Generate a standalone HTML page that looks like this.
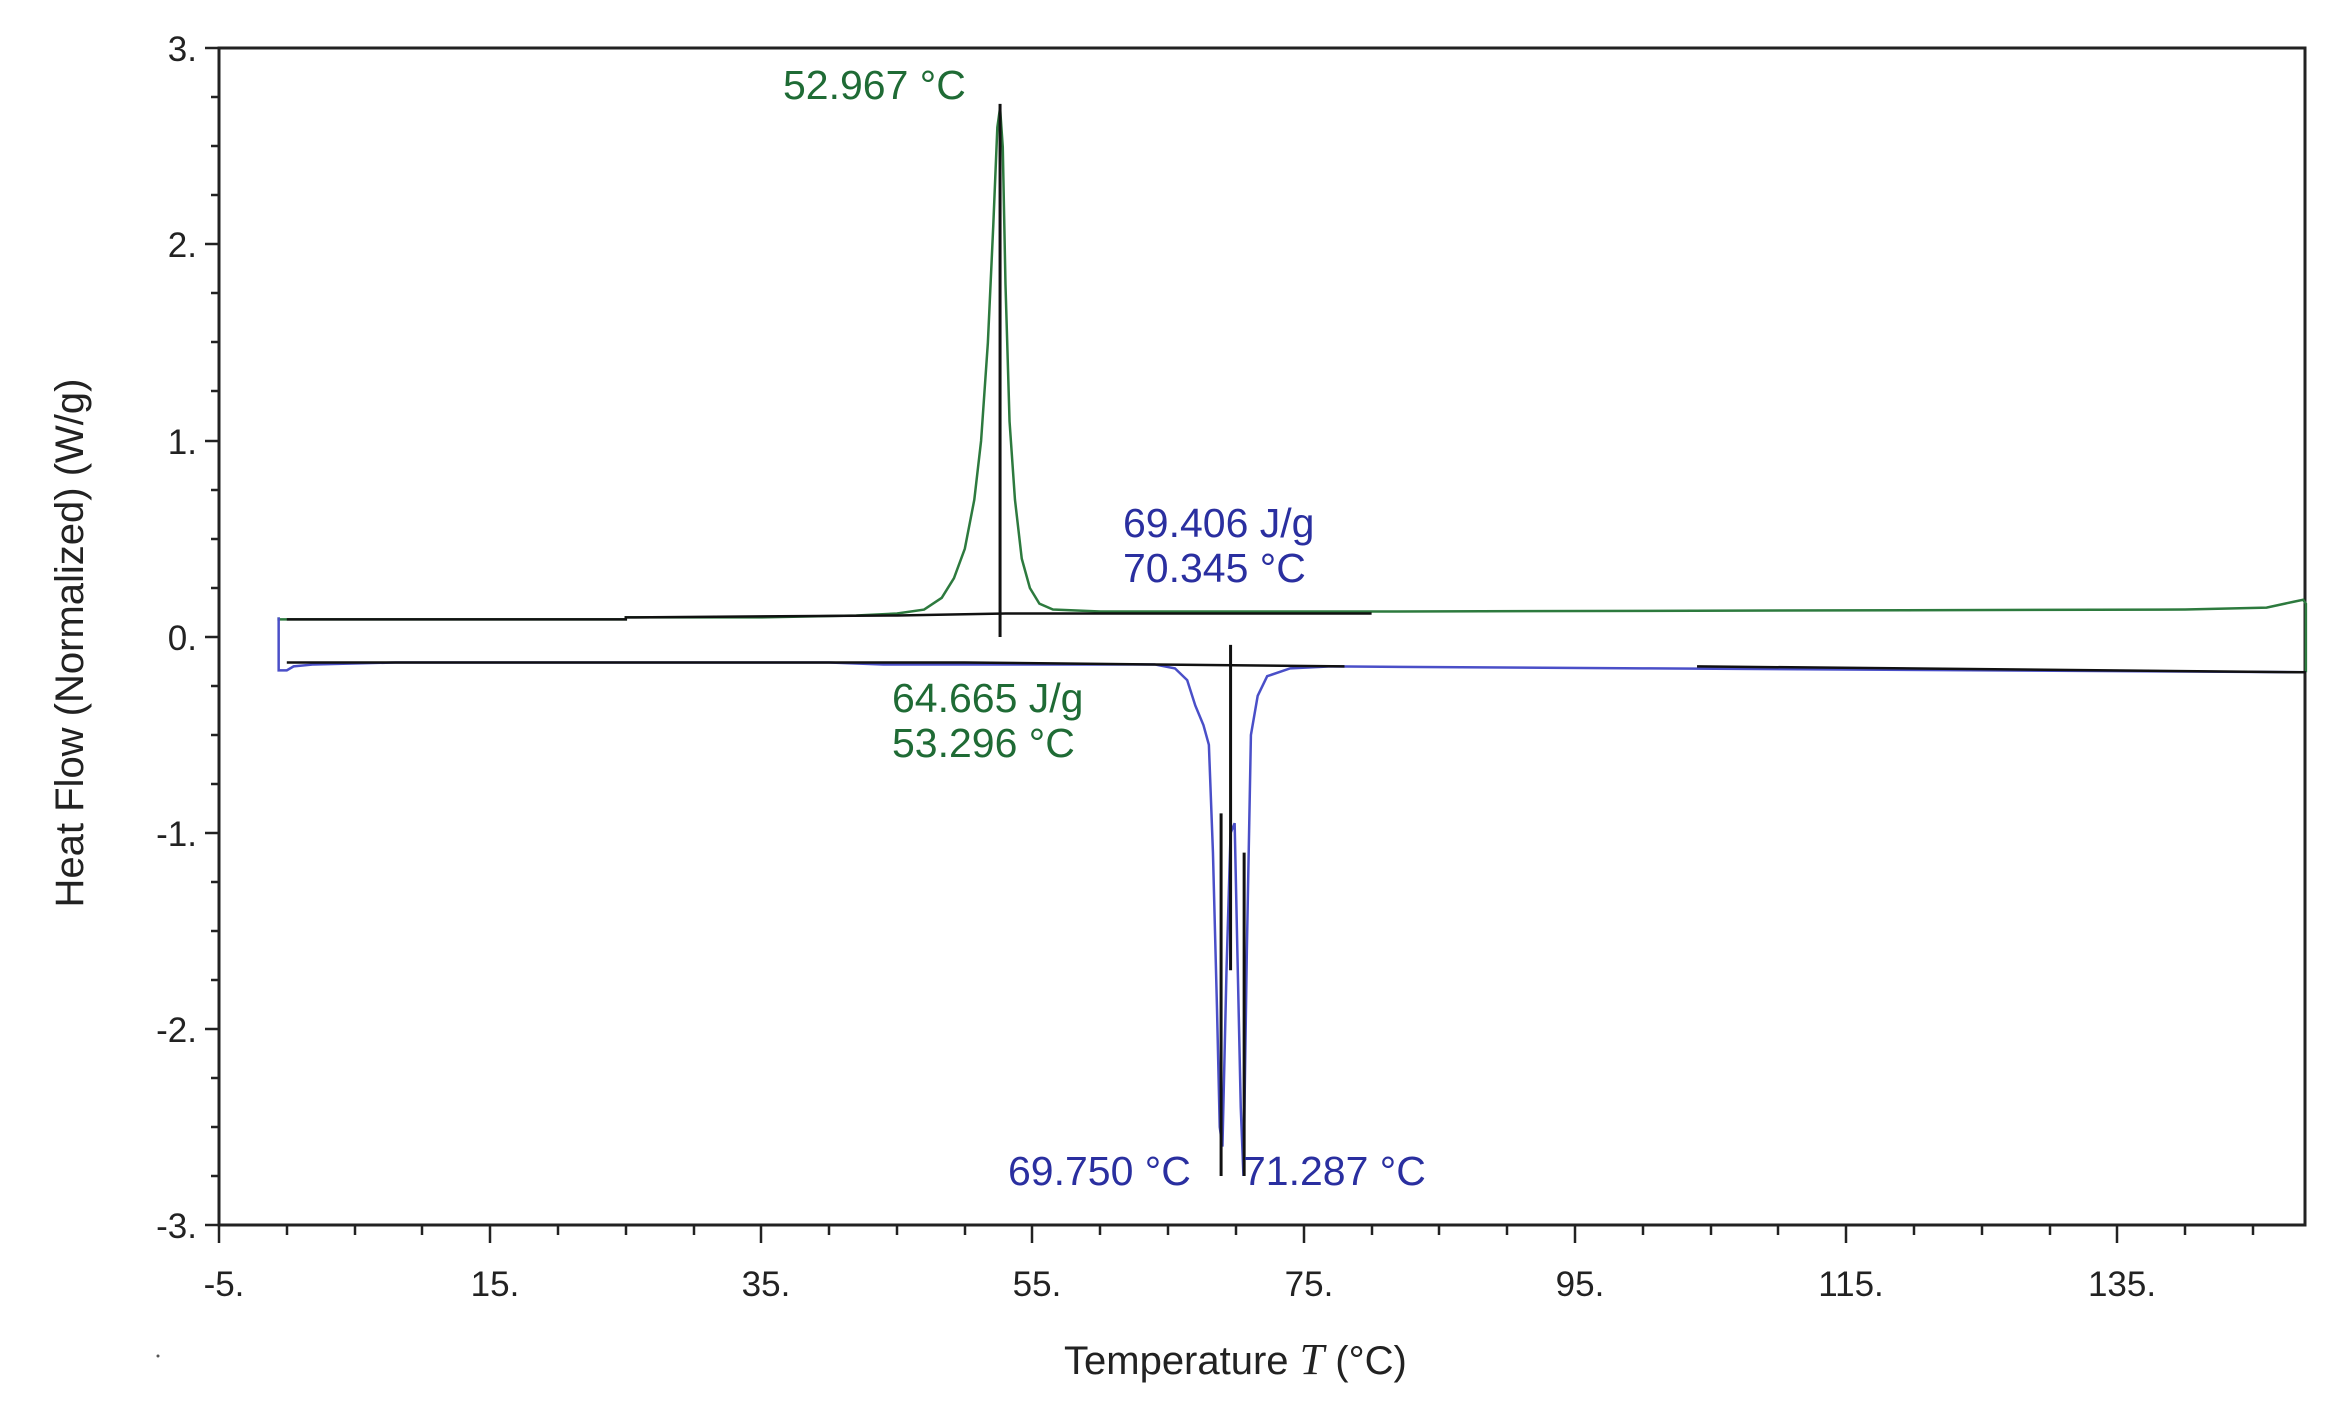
<!DOCTYPE html>
<html><head><meta charset="utf-8"><style>
html,body{margin:0;padding:0;background:#fff}
svg{display:block}
text{font-family:"Liberation Sans",Arial,sans-serif}
</style></head><body>
<svg width="2339" height="1414" viewBox="0 0 2339 1414" xmlns="http://www.w3.org/2000/svg">
<rect width="2339" height="1414" fill="#fff"/>
<rect x="219" y="48" width="2086" height="1177" fill="none" stroke="#222" stroke-width="3"/>
<g stroke="#222" stroke-width="2.5">
<line x1="205" y1="48" x2="219" y2="48"/><line x1="205" y1="244" x2="219" y2="244"/>
<line x1="205" y1="441" x2="219" y2="441"/><line x1="205" y1="637" x2="219" y2="637"/>
<line x1="205" y1="833" x2="219" y2="833"/><line x1="205" y1="1029" x2="219" y2="1029"/>
<line x1="205" y1="1225" x2="219" y2="1225"/>
<line x1="211" y1="97" x2="219" y2="97"/><line x1="211" y1="146" x2="219" y2="146"/><line x1="211" y1="195" x2="219" y2="195"/>
<line x1="211" y1="293" x2="219" y2="293"/><line x1="211" y1="342" x2="219" y2="342"/><line x1="211" y1="391" x2="219" y2="391"/>
<line x1="211" y1="490" x2="219" y2="490"/><line x1="211" y1="539" x2="219" y2="539"/><line x1="211" y1="588" x2="219" y2="588"/>
<line x1="211" y1="686" x2="219" y2="686"/><line x1="211" y1="735" x2="219" y2="735"/><line x1="211" y1="784" x2="219" y2="784"/>
<line x1="211" y1="882" x2="219" y2="882"/><line x1="211" y1="931" x2="219" y2="931"/><line x1="211" y1="980" x2="219" y2="980"/>
<line x1="211" y1="1078" x2="219" y2="1078"/><line x1="211" y1="1127" x2="219" y2="1127"/><line x1="211" y1="1176" x2="219" y2="1176"/>
</g>
<g stroke="#222" stroke-width="2.5">
<line x1="219" y1="1225" x2="219" y2="1243"/><line x1="490" y1="1225" x2="490" y2="1243"/>
<line x1="761" y1="1225" x2="761" y2="1243"/><line x1="1032" y1="1225" x2="1032" y2="1243"/>
<line x1="1304" y1="1225" x2="1304" y2="1243"/><line x1="1575" y1="1225" x2="1575" y2="1243"/>
<line x1="1846" y1="1225" x2="1846" y2="1243"/><line x1="2117" y1="1225" x2="2117" y2="1243"/>
<line x1="287" y1="1225" x2="287" y2="1235"/><line x1="355" y1="1225" x2="355" y2="1235"/><line x1="422" y1="1225" x2="422" y2="1235"/>
<line x1="558" y1="1225" x2="558" y2="1235"/><line x1="626" y1="1225" x2="626" y2="1235"/><line x1="694" y1="1225" x2="694" y2="1235"/>
<line x1="829" y1="1225" x2="829" y2="1235"/><line x1="897" y1="1225" x2="897" y2="1235"/><line x1="965" y1="1225" x2="965" y2="1235"/>
<line x1="1100" y1="1225" x2="1100" y2="1235"/><line x1="1168" y1="1225" x2="1168" y2="1235"/><line x1="1236" y1="1225" x2="1236" y2="1235"/>
<line x1="1372" y1="1225" x2="1372" y2="1235"/><line x1="1439" y1="1225" x2="1439" y2="1235"/><line x1="1507" y1="1225" x2="1507" y2="1235"/>
<line x1="1643" y1="1225" x2="1643" y2="1235"/><line x1="1711" y1="1225" x2="1711" y2="1235"/><line x1="1778" y1="1225" x2="1778" y2="1235"/>
<line x1="1914" y1="1225" x2="1914" y2="1235"/><line x1="1982" y1="1225" x2="1982" y2="1235"/><line x1="2050" y1="1225" x2="2050" y2="1235"/>
<line x1="2185" y1="1225" x2="2185" y2="1235"/><line x1="2253" y1="1225" x2="2253" y2="1235"/>
</g>
<g font-size="35" fill="#222" text-anchor="end">
<text x="197" y="61">3.</text><text x="197" y="257">2.</text><text x="197" y="454">1.</text>
<text x="197" y="650">0.</text><text x="197" y="846">-1.</text><text x="197" y="1042">-2.</text><text x="197" y="1238">-3.</text>
</g>
<g font-size="35" fill="#222" text-anchor="middle">
<text x="224" y="1296">-5.</text><text x="495" y="1296">15.</text><text x="766" y="1296">35.</text>
<text x="1037" y="1296">55.</text><text x="1309" y="1296">75.</text><text x="1580" y="1296">95.</text>
<text x="1851" y="1296">115.</text><text x="2122" y="1296">135.</text>
</g>
<text x="1064" y="1374" font-size="40" fill="#222">Temperature <tspan font-family="Liberation Serif" font-style="italic" font-size="44">T</tspan> (°C)</text>
<text transform="translate(83,643) rotate(-90)" font-size="40" fill="#222" text-anchor="middle">Heat Flow (Normalized)  (W/g)</text>
<circle cx="158" cy="1356" r="1.5" fill="#555"/>

<g transform="translate(286.8,637) scale(13.56,-196)" fill="none">
<path vector-effect="non-scaling-stroke" stroke="#2d7a3e" stroke-width="2.5" d="M-0.6,0.1 L-0.6,0.09 L25,0.09 L25,0.1 L35,0.1 L42,0.11 L45,0.12 L47,0.14 L48.3,0.2 L49.2,0.3 L50,0.45 L50.7,0.7 L51.2,1.0 L51.7,1.5 L52.1,2.1 L52.4,2.6 L52.6,2.7 L52.8,2.5 L53.0,1.8 L53.3,1.1 L53.7,0.7 L54.2,0.4 L54.8,0.25 L55.5,0.17 L56.5,0.14 L60,0.13 L80,0.13 L140,0.14 L146,0.15 L148,0.18 L148.7,0.19 L148.9,0.17 L148.9,-0.18"/>
<path vector-effect="non-scaling-stroke" stroke="#4a4fc8" stroke-width="2.5" d="M-0.6,0.1 L-0.6,-0.17 L0,-0.17 L0.5,-0.15 L2,-0.14 L8,-0.13 L40,-0.13 L44,-0.14 L60,-0.14 L64,-0.14 L65.5,-0.16 L66.4,-0.22 L67,-0.35 L67.6,-0.45 L68,-0.55 L68.3,-1.1 L68.6,-1.9 L68.8,-2.5 L69.0,-2.6 L69.3,-1.7 L69.6,-1.0 L69.9,-0.95 L70.1,-1.6 L70.35,-2.4 L70.55,-2.75 L70.8,-1.6 L71.1,-0.5 L71.6,-0.3 L72.3,-0.2 L74,-0.16 L77,-0.15 L100,-0.16 L148.9,-0.18"/>
<path vector-effect="non-scaling-stroke" stroke="#111" stroke-width="2.5" d="M0,0.09 L25,0.09 L25,0.1 L45,0.11 L53,0.12 L80,0.12"/>
<path vector-effect="non-scaling-stroke" stroke="#111" stroke-width="2.5" d="M0,-0.13 L50,-0.13 L78,-0.15"/>
<path vector-effect="non-scaling-stroke" stroke="#111" stroke-width="2.5" d="M104,-0.15 L148.9,-0.18"/>
<path vector-effect="non-scaling-stroke" stroke="#111" stroke-width="3" d="M52.6,2.72 L52.6,0"/>
<path vector-effect="non-scaling-stroke" stroke="#111" stroke-width="3" d="M69.6,-0.04 L69.6,-1.7"/>
<path vector-effect="non-scaling-stroke" stroke="#111" stroke-width="3" d="M68.9,-0.9 L68.9,-2.75"/>
<path vector-effect="non-scaling-stroke" stroke="#111" stroke-width="3" d="M70.6,-1.1 L70.6,-2.75"/>
</g>
<g font-size="41">
<text x="783" y="99" fill="#1f6b35">52.967 °C</text>
<text x="1123" y="537" fill="#2a2fa0">69.406 J/g</text>
<text x="1123" y="582" fill="#2a2fa0">70.345 °C</text>
<text x="892" y="712" fill="#1f6b35">64.665 J/g</text>
<text x="892" y="757" fill="#1f6b35">53.296 °C</text>
<text x="1008" y="1185" fill="#2a2fa0">69.750 °C</text>
<text x="1243" y="1185" fill="#2a2fa0">71.287 °C</text>
</g>
</svg>
</body></html>
